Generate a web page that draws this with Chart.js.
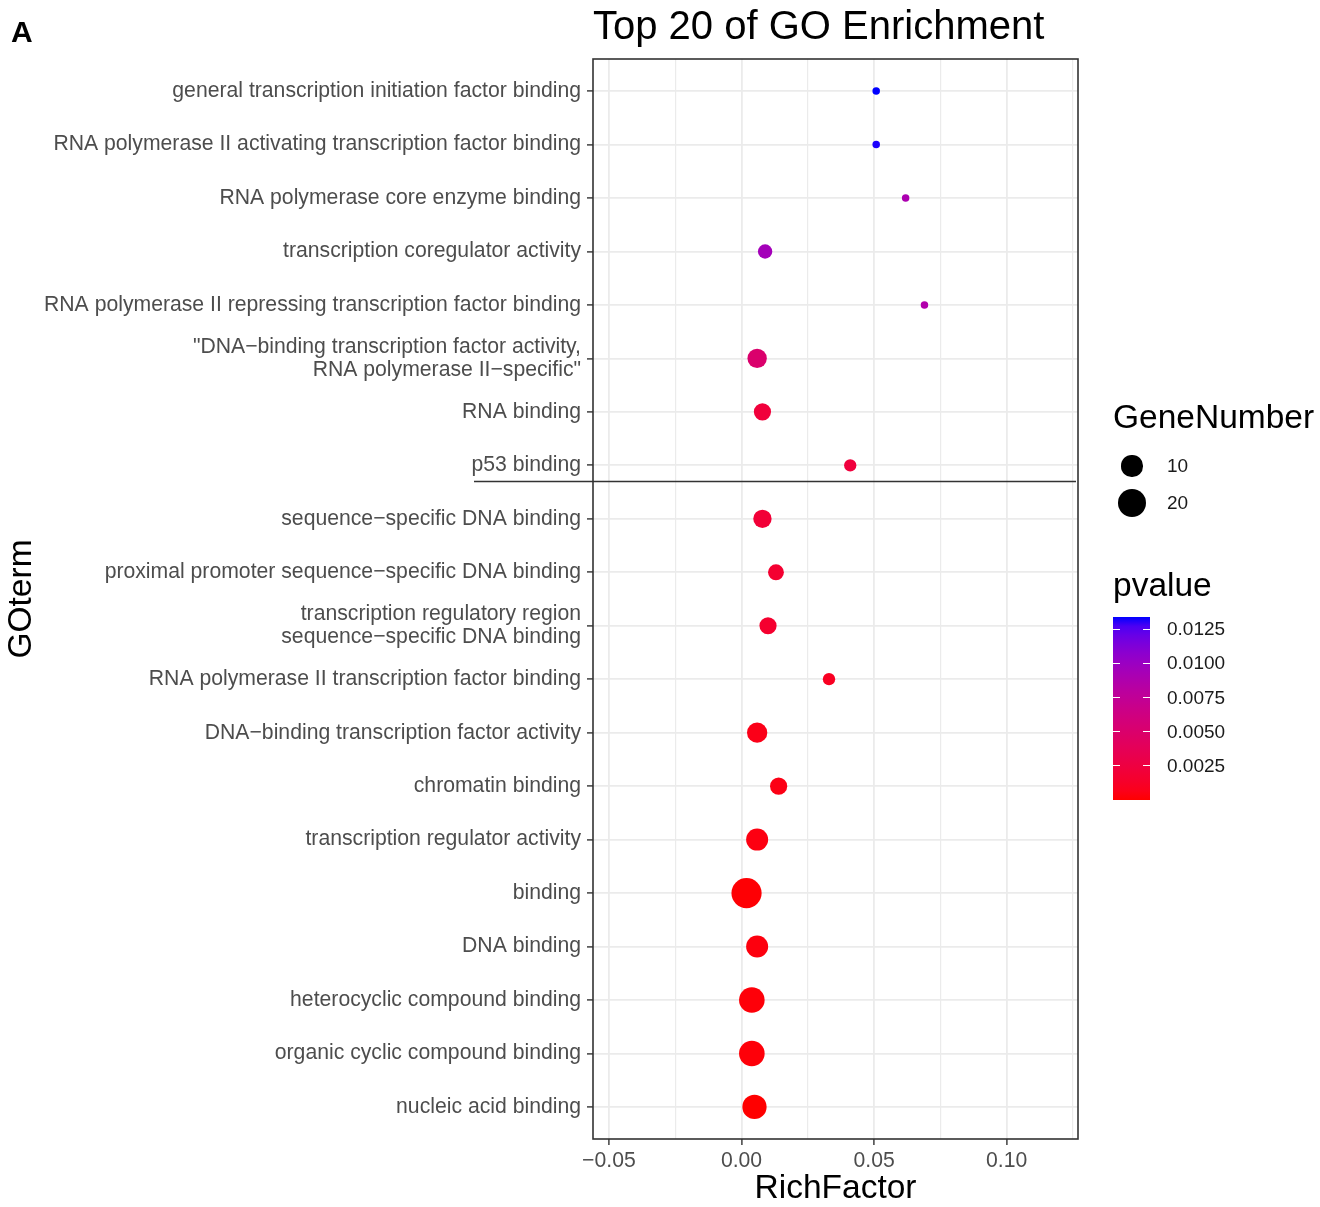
<!DOCTYPE html>
<html>
<head>
<meta charset="utf-8">
<script src="https://cdn.jsdelivr.net/npm/chart.js@4.4.1/dist/chart.umd.min.js"></script>
<style>
  html, body { margin: 0; padding: 0; background: #fff; overflow: hidden; }
  #wrap { position: relative; width: 1320px; height: 1207px; overflow: hidden; font-family: "Liberation Sans", Arial, sans-serif; }
  #chart { position: absolute; left: 0; top: 0; }
  .abs { position: absolute; white-space: nowrap; }
  .panel { font-weight: bold; font-size: 30px; color: #000; line-height: 1; }
  .legTitle { font-size: 33.5px; color: #000; line-height: 1; }
  .legText { font-size: 19px; color: #1a1a1a; line-height: 1; }
  .dot { position: absolute; border-radius: 50%; background: #000; }
  .cbTick { position: absolute; height: 1px; background: #fff; }
</style>
</head>
<body>
<div id="wrap">
  <canvas id="chart" width="1320" height="1207"></canvas>
  <div class="abs panel" style="left:11px; top:17px;">A</div>
  <div class="abs panel" style="left:11px; top:1202px;">B</div>
  <div class="abs panel" style="left:458px; top:1202px;">C</div>
  <div id="legend"></div>
</div>
<script>
// GO terms, top to bottom
const goTerms = [
  'general transcription initiation factor binding',
  'RNA polymerase II activating transcription factor binding',
  'RNA polymerase core enzyme binding',
  'transcription coregulator activity',
  'RNA polymerase II repressing transcription factor binding',
  '"DNA\u2212binding transcription factor activity,\nRNA polymerase II\u2212specific"',
  'RNA binding',
  'p53 binding',
  'sequence\u2212specific DNA binding',
  'proximal promoter sequence\u2212specific DNA binding',
  'transcription regulatory region\nsequence\u2212specific DNA binding',
  'RNA polymerase II transcription factor binding',
  'DNA\u2212binding transcription factor activity',
  'chromatin binding',
  'transcription regulator activity',
  'binding',
  'DNA binding',
  'heterocyclic compound binding',
  'organic cyclic compound binding',
  'nucleic acid binding'
]
const richFactor = [0.0508, 0.0508, 0.0619, 0.0089, 0.0690, 0.0059, 0.0079, 0.0410, 0.0079, 0.0130,
                    0.0100, 0.0330, 0.0059, 0.0140, 0.0059, 0.0019, 0.0059, 0.0039, 0.0039, 0.0049]
const geneNumber = [2, 2, 2, 4, 2, 8, 6, 3, 7, 5, 6, 3, 9, 6, 11, 24, 11, 16, 16, 14]
const pValue = [0.0134, 0.0133, 0.0090, 0.0095, 0.0087, 0.0050, 0.0022, 0.0023, 0.0020, 0.0017,
                0.0016, 0.0010, 0.0006, 0.0005, 0.0004, 0.0001, 0.0003, 0.0002, 0.0002, 0.00001]

const xTickValues = [-0.05, -0.025, 0, 0.025, 0.05, 0.075, 0.1, 0.125]
const xTickLabels = ['\u22120.05', '', '0.00', '', '0.05', '', '0.10', '']
const sizeBreaks = [10, 20]
const pBreaks = [0.0125, 0.0100, 0.0075, 0.0050, 0.0025]
const pBreakLabels = ['0.0125', '0.0100', '0.0075', '0.0050', '0.0025']

const pMin = Math.min(...pValue), pMax = Math.max(...pValue)
const gMin = Math.min(...geneNumber), gMax = Math.max(...geneNumber)

// size scale (area-like, as ggplot scale_size)
function diameter(n) {
  return 7.5 + 22.7 * Math.sqrt((n - gMin) / (gMax - gMin))
}

// red -> blue gradient interpolated in Lab
function toLin(c) { c /= 255; return c <= 0.04045 ? c / 12.92 : Math.pow((c + 0.055) / 1.055, 2.4) }
function fromLin(c) {
  c = c <= 0.0031308 ? 12.92 * c : 1.055 * Math.pow(c, 1 / 2.4) - 0.055
  return Math.round(Math.max(0, Math.min(1, c)) * 255)
}
function rgbToLab(rgb) {
  const R = toLin(rgb[0]), G = toLin(rgb[1]), B = toLin(rgb[2])
  const X = (0.4124 * R + 0.3576 * G + 0.1805 * B) / 0.95047
  const Y = 0.2126 * R + 0.7152 * G + 0.0722 * B
  const Z = (0.0193 * R + 0.1192 * G + 0.9505 * B) / 1.08883
  const f = t => t > 0.008856 ? Math.cbrt(t) : 7.787 * t + 16 / 116
  return [116 * f(Y) - 16, 500 * (f(X) - f(Y)), 200 * (f(Y) - f(Z))]
}
function labToRgb(lab) {
  const fy = (lab[0] + 16) / 116, fx = fy + lab[1] / 500, fz = fy - lab[2] / 200
  const inv = t => t * t * t > 0.008856 ? t * t * t : (t - 16 / 116) / 7.787
  const X = inv(fx) * 0.95047, Y = inv(fy), Z = inv(fz) * 1.08883
  return [fromLin(3.2406 * X - 1.5372 * Y - 0.4986 * Z),
          fromLin(-0.9689 * X + 1.8758 * Y + 0.0415 * Z),
          fromLin(0.0557 * X - 0.2040 * Y + 1.0570 * Z)]
}
const labLow = rgbToLab([255, 0, 0]), labHigh = rgbToLab([0, 0, 255])
function pColor(p) {
  const t = Math.max(0, Math.min(1, (p - pMin) / (pMax - pMin)))
  const c = labToRgb(labLow.map((v, i) => v + (labHigh[i] - v) * t))
  return 'rgb(' + c.join(',') + ')'
}

const panelDecor = {
  id: 'panelDecor',
  afterDatasetsDraw(chart) {
    const {ctx, chartArea: a, scales} = chart
    ctx.save()
    ctx.strokeStyle = '#333333'
    ctx.lineWidth = 1.6
    ctx.strokeRect(a.left, a.top, a.right - a.left, a.bottom - a.top)
    // separator line under "p53 binding"
    const y = Math.round(scales.y.getPixelForValue(8.3)) + 0.5
    ctx.lineWidth = 1.4
    ctx.beginPath()
    ctx.moveTo(a.left - 119, y)
    ctx.lineTo(a.right - 2, y)
    ctx.stroke()
    ctx.restore()
  }
}

Chart.defaults.font.family = '"Liberation Sans", Arial, sans-serif'
Chart.defaults.color = '#4D4D4D'

const chart = new Chart(document.getElementById('chart'), {
  type: 'bubble',
  data: {
    datasets: [{
      data: richFactor.map((x, i) => ({x: x, y: i + 1, r: diameter(geneNumber[i]) / 2})),
      backgroundColor: pValue.map(pColor),
      borderWidth: 0,
      hoverRadius: 0,
      clip: false
    }]
  },
  options: {
    responsive: false,
    animation: false,
    events: [],
    layout: {padding: {left: 0, right: 242, top: 0, bottom: 0}},
    plugins: {
      legend: {display: false},
      tooltip: {enabled: false},
      title: {
        display: true,
        text: 'Top 20 of GO Enrichment',
        align: 'start',
        fullSize: false,
        color: '#000',
        font: {size: 40, weight: 'normal', lineHeight: 1.2},
        padding: {top: 4, bottom: 7}
      }
    },
    scales: {
      x: {
        type: 'linear',
        min: -0.056,
        max: 0.1269,
        afterBuildTicks: axis => { axis.ticks = xTickValues.map(v => ({value: v})) },
        afterFit: scale => { scale.height = 68 },
        ticks: {
          autoSkip: false,
          maxRotation: 0,
          padding: 3,
          color: '#4D4D4D',
          font: {size: 21.2},
          callback: (v, i) => xTickLabels[i]
        },
        grid: {
          color: '#EBEBEB',
          lineWidth: ctx => xTickLabels[ctx.index] ? 1.8 : 1.2,
          tickColor: ctx => xTickLabels[ctx.index] ? '#333333' : 'rgba(0,0,0,0)',
          tickLength: 6,
          tickWidth: 1.4
        },
        border: {display: false},
        title: {
          display: true,
          text: 'RichFactor',
          color: '#000',
          font: {size: 33.5, lineHeight: 1.1},
          padding: {top: 0, bottom: 0}
        }
      },
      y: {
        type: 'linear',
        reverse: true,
        min: 0.4,
        max: goTerms.length + 0.6,
        afterBuildTicks: axis => { axis.ticks = goTerms.map((t, i) => ({value: i + 1})) },
        afterFit: scale => { scale.width = 593 },
        ticks: {
          autoSkip: false,
          padding: 6,
          color: '#4D4D4D',
          font: {size: 21.2, lineHeight: 1.1},
          callback: v => goTerms[v - 1].split('\n')
        },
        grid: {
          color: '#EBEBEB',
          lineWidth: 1.8,
          tickColor: '#333333',
          tickLength: 6,
          tickWidth: 1.4
        },
        border: {display: false},
        title: {
          display: true,
          text: 'GOterm',
          color: '#000',
          font: {size: 33.5, lineHeight: 1.1},
          padding: {top: 3, bottom: 0}
        }
      }
    }
  },
  plugins: [panelDecor]
})

// legends (size + colour bar)
const legend = document.getElementById('legend')
function add(html) { legend.insertAdjacentHTML('beforeend', html) }

add('<div class="abs legTitle" style="left:1113px; top:400px;">GeneNumber</div>')
const sizeRowY = [466, 503]
sizeBreaks.forEach((n, i) => {
  const d = diameter(n)
  add('<div class="dot" style="left:' + (1132 - d / 2) + 'px; top:' + (sizeRowY[i] - d / 2) + 'px; width:' + d + 'px; height:' + d + 'px;"></div>')
  add('<div class="abs legText" style="left:1167px; top:' + (sizeRowY[i] - 10) + 'px;">' + n + '</div>')
})

add('<div class="abs legTitle" style="left:1113px; top:568px;">pvalue</div>')
const barTop = 617, barH = 183, barL = 1113, barW = 37
const stops = []
for (let k = 0; k <= 20; k++) {
  const p = pMin + (pMax - pMin) * k / 20
  stops.push(pColor(p) + ' ' + (k * 5) + '%')
}
add('<div style="position:absolute; left:' + barL + 'px; top:' + barTop + 'px; width:' + barW + 'px; height:' + barH + 'px; background:linear-gradient(to top,' + stops.join(',') + ');"></div>')
pBreaks.forEach((p, i) => {
  const y = barTop + (pMax - p) / (pMax - pMin) * barH
  add('<div class="cbTick" style="left:' + barL + 'px; top:' + (y - 0.5) + 'px; width:7px;"></div>')
  add('<div class="cbTick" style="left:' + (barL + barW - 7) + 'px; top:' + (y - 0.5) + 'px; width:7px;"></div>')
  add('<div class="abs legText" style="left:1167px; top:' + (y - 10) + 'px;">' + pBreakLabels[i] + '</div>')
})
</script>
</body>
</html>
